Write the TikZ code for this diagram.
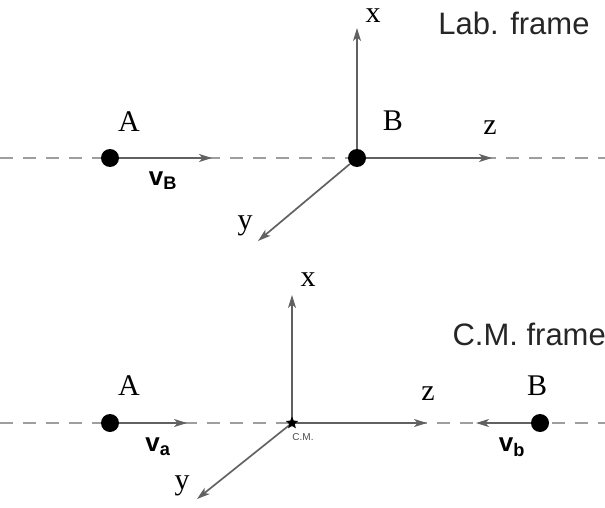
\documentclass[tikz,border=0pt]{standalone}
\usepackage{fontspec}
\setmainfont{Liberation Serif}
\setsansfont{Liberation Sans}
\usetikzlibrary{arrows.meta,shapes.geometric}
\begin{document}
\begin{tikzpicture}[
  x=1pt, y=-1pt,
  axis/.style={-{Stealth[length=13pt,width=8pt,inset=3.5pt]}, line width=1.7pt, black!62},
  beam/.style={dash pattern=on 13pt off 10pt, line width=2.2pt, black!38},
  particle/.style={circle, fill=black, inner sep=0pt, minimum size=18pt},
  cmstar/.style={star, star points=5, star point ratio=2.2, fill=black, inner sep=0pt, minimum size=13pt},
  lbl/.style={font=\fontsize{30}{32}\selectfont},
  vel/.style={font=\fontsize{26}{28}\selectfont\sffamily\bfseries},
  framelbl/.style={font=\fontsize{31}{34}\selectfont\sffamily, black!85}
]
\useasboundingbox (0,0) rectangle (605,508);

%% Lab. frame
\draw[beam] (0,158) -- (605,158);
\node[particle] (labA) at (110,158) {};
\node[particle] (labB) at (357,158) {};
\coordinate (labX) at (357,28);
\coordinate (labZ) at (492,158);
\coordinate (labY) at (258,241);
\coordinate (labV) at (212,158);
\draw[axis] (labB) -- (labX);
\draw[axis] (labB) -- (labZ);
\draw[axis] (labB) -- (labY);
\draw[axis] (labA) -- (labV);
\node[lbl] (labAname) at (129,122) {A};
\node[lbl] (labBname) at (393,121) {B};
\node[lbl] (labXname) at (373,16) {x};
\node[lbl] (labZname) at (490,128) {z};
\node[lbl] (labYname) at (245,226) {y};
\node[vel] (labVname) at (163,181) {v\textsubscript{B}};
\node[framelbl] (labTitle) at (514,23) {Lab. frame};

%% C.M. frame
\draw[beam] (0,423) -- (605,423);
\node[particle] (cmA) at (110,423) {};
\node[particle] (cmB) at (540,423) {};
\coordinate (cm) at (292,423);
\coordinate (cmX) at (292,295);
\coordinate (cmZ) at (427,423);
\coordinate (cmY) at (197,499);
\coordinate (cmVa) at (187,423);
\coordinate (cmVb) at (476,423);
\draw[axis] (cm) -- (cmX);
\draw[axis] (cm) -- (cmZ);
\draw[axis] (cm) -- (cmY);
\draw[axis] (cmA) -- (cmVa);
\draw[axis] (cmB) -- (cmVb);
\node[cmstar] (cmdot) at (cm) {};
\node[lbl] (cmAname) at (129,386) {A};
\node[lbl] (cmBname) at (537,386) {B};
\node[lbl] (cmXname) at (308,280) {x};
\node[lbl] (cmZname) at (428,394) {z};
\node[lbl] (cmYname) at (182,486) {y};
\node[vel] (cmVaname) at (158,447) {v\textsubscript{a}};
\node[vel] (cmVbname) at (512,447) {v\textsubscript{b}};
\node[font=\fontsize{10}{11}\selectfont\sffamily, black!70] (cmname) at (303,437) {C.M.};
\node[framelbl, anchor=west] (cmTitle) at (449,334) {C.M. frame};
\end{tikzpicture}
\end{document}
